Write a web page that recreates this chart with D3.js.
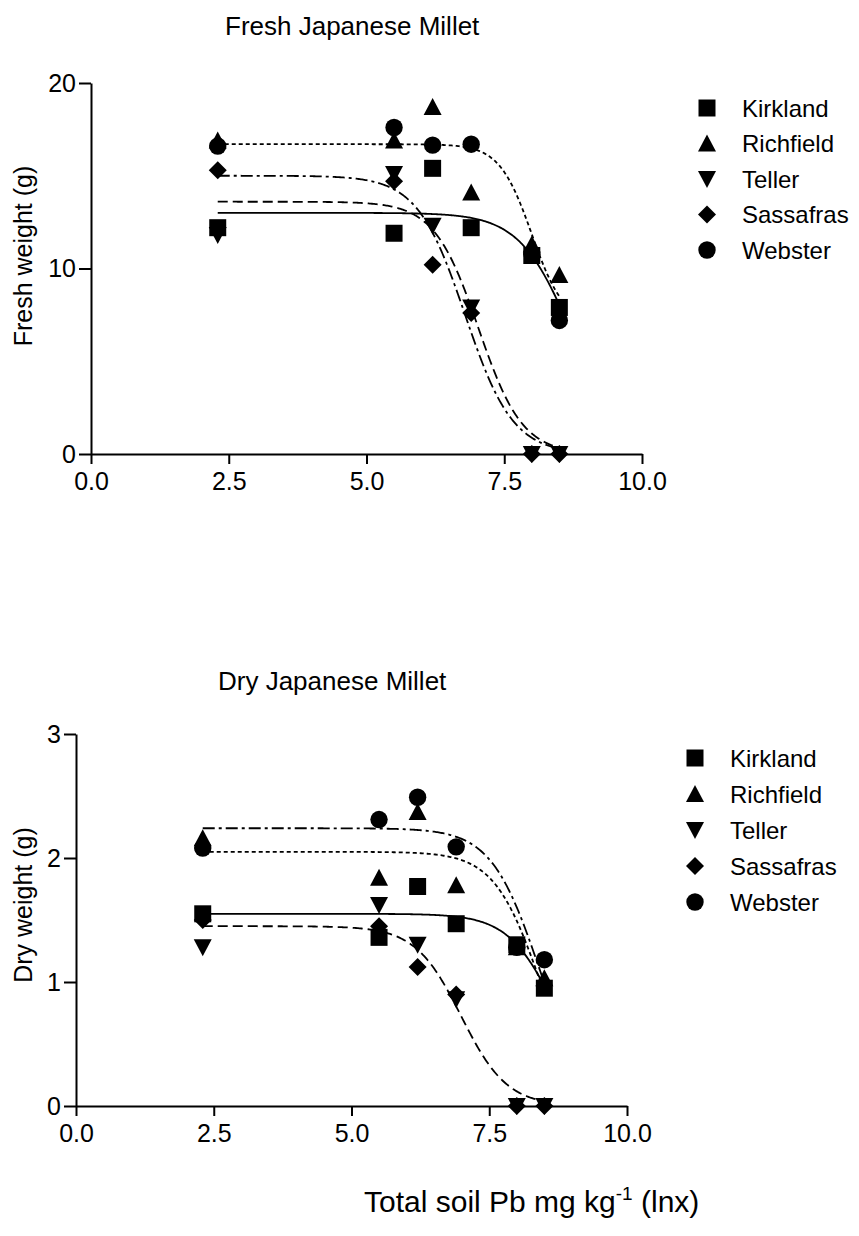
<!DOCTYPE html>
<html>
<head>
<meta charset="utf-8">
<script src="https://cdn.jsdelivr.net/npm/d3@7"></script>
<style>
  body { margin: 0; background: #fff; }
  text { font-family: "Liberation Sans", Arial, sans-serif; fill: #000; }
</style>
</head>
<body>
<div id="container"></div>
<script>
// ln of total soil Pb, same levels in both panels
const lnPb = [2.3, 5.5, 6.2, 6.9, 8.0, 8.5];
const sites = ["Kirkland", "Richfield", "Teller", "Sassafras", "Webster"];
const xTicks = [0, 2.5, 5, 7.5, 10];

// fresh weight (g)
const freshKirkland  = [12.2, 11.9, 15.4, 12.2, 10.7, 7.9];
const freshRichfield = [16.9, 16.9, 18.7, 14.1, 11.3, 9.65];
const freshTeller    = [11.8, 15.1, 12.3, 7.9, 0, 0];
const freshSassafras = [15.3, 14.7, 10.2, 7.6, 0, 0];
const freshWebster   = [16.6, 17.6, 16.65, 16.7, 10.8, 7.2];
const freshTicks = [0, 10, 20];

// dry weight (g)
const dryKirkland  = [1.55, 1.36, 1.77, 1.47, 1.30, 0.95];
const dryRichfield = [2.16, 1.84, 2.37, 1.78, 1.28, 1.03];
const dryTeller    = [1.28, 1.62, 1.30, 0.86, 0, 0];
const drySassafras = [1.50, 1.45, 1.12, 0.90, 0, 0];
const dryWebster   = [2.08, 2.31, 2.49, 2.09, 1.28, 1.18];
const dryTicks = [0, 1, 2, 3];

// sigmoid fits: top, bottom, midpoint (ln x), slope
const freshFitTop    = [13.0, 16.7, 13.6, 15.0];
const freshFitBottom = [0, 7, 0, 0];
const freshFitMid    = [8.73, 8.0, 7.03, 6.79];
const freshFitSlope  = [2.1, 3.4, 2.5, 2.3];

const dryFitTop    = [1.55, 2.05, 1.45, 2.24];
const dryFitBottom = [0, 0, 0, 0];
const dryFitMid    = [8.72, 8.41, 6.99, 8.4];
const dryFitSlope  = [2.3, 2.4, 2.4, 2.3];

// line style for each fitted curve (same order as fit arrays)
const fitDash = [null, "4,3", "10,5", "12,4,3,4"];

const width = 859, height = 1236;
const svg = d3.select("#container").append("svg")
    .attr("width", width).attr("height", height);

// marker shapes, bbox-centred
function marker(type, s) {
    const h = s / 2;
    if (type === 0) return `M${-h + 0.5},${-h + 0.5}H${h - 0.5}V${h - 0.5}H${-h + 0.5}Z`;
    if (type === 1) return `M0,${-h}L${h},${h - 1}L${-h},${h - 1}Z`;
    if (type === 2) return `M0,${h}L${h},${-h + 1}L${-h},${-h + 1}Z`;
    if (type === 3) return `M0,${-h}L${h},0L0,${h}L${-h},0Z`;
    return d3.symbol(d3.symbolCircle, Math.PI * (h - 0.3) * (h - 0.3))();
}

function panel(opts) {
    const x = d3.scaleLinear().domain([0, 10]).range([opts.left, opts.right]);
    const y = d3.scaleLinear().domain([0, opts.yMax]).range([opts.bottom, opts.top]);
    const g = svg.append("g");

    g.append("text")
        .attr("x", opts.titleX).attr("y", opts.titleY)
        .attr("font-size", 26)
        .text(opts.title);

    const yAxis = g.append("g")
        .attr("transform", `translate(${opts.left},0)`)
        .call(d3.axisLeft(y).tickValues(opts.yTicks).tickFormat(d3.format("d"))
            .tickSize(12).tickSizeOuter(0).tickPadding(3));
    const xAxis = g.append("g")
        .attr("transform", `translate(0,${opts.bottom})`)
        .call(d3.axisBottom(x).tickValues(xTicks).tickFormat(d3.format(".1f"))
            .tickSize(10).tickSizeOuter(0).tickPadding(8));
    [yAxis, xAxis].forEach(a => {
        a.select(".domain").attr("stroke-width", 2);
        a.selectAll(".tick line").attr("stroke-width", 2);
        a.selectAll("text").attr("font-size", 25)
            .attr("font-family", "Liberation Sans, Arial, sans-serif");
    });

    g.append("text")
        .attr("transform", `translate(${opts.yLabelX},${opts.yLabelY}) rotate(-90)`)
        .attr("text-anchor", "middle")
        .attr("font-size", 25)
        .text(opts.yLabel);

    // fitted curves
    const xs = d3.range(lnPb[0], lnPb[lnPb.length - 1], 0.02).concat([lnPb[lnPb.length - 1]]);
    const line = d3.line().x(d => x(d[0])).y(d => y(d[1]));
    opts.fitTop.forEach((t, i) => {
        const b = opts.fitBottom[i], m = opts.fitMid[i], k = opts.fitSlope[i];
        const pts = xs.map(v => [v, b + (t - b) / (1 + Math.exp(k * (v - m)))]);
        g.append("path")
            .attr("d", line(pts))
            .attr("fill", "none")
            .attr("stroke", "#000")
            .attr("stroke-width", 1.8)
            .attr("stroke-dasharray", fitDash[i]);
    });

    // data points
    opts.series.forEach((vals, si) => {
        g.append("g").selectAll("path")
            .data(vals.map((v, i) => [lnPb[i], v]))
            .join("path")
            .attr("transform", d => `translate(${x(d[0])},${y(d[1])})`)
            .attr("d", marker(si, 18))
            .attr("fill", "#000");
    });

    // legend
    sites.forEach((name, i) => {
        const ly = opts.legendY + i * opts.legendStep;
        g.append("path")
            .attr("transform", `translate(${opts.legendX},${ly})`)
            .attr("d", marker(i, 18))
            .attr("fill", "#000");
        g.append("text")
            .attr("x", opts.legendX + 35).attr("y", ly)
            .attr("dy", "0.36em")
            .attr("font-size", 24)
            .text(name);
    });
}

panel({
    title: "Fresh Japanese Millet", titleX: 225, titleY: 35,
    left: 91, right: 642, top: 83, bottom: 454, yMax: 20, yTicks: freshTicks,
    yLabel: "Fresh weight (g)", yLabelX: 32, yLabelY: 256,
    series: [freshKirkland, freshRichfield, freshTeller, freshSassafras, freshWebster],
    fitTop: freshFitTop, fitBottom: freshFitBottom, fitMid: freshFitMid, fitSlope: freshFitSlope,
    legendX: 707, legendY: 108, legendStep: 35.5
});

panel({
    title: "Dry Japanese Millet", titleX: 218, titleY: 690,
    left: 76, right: 627, top: 734, bottom: 1106, yMax: 3, yTicks: dryTicks,
    yLabel: "Dry weight (g)", yLabelX: 32, yLabelY: 905,
    series: [dryKirkland, dryRichfield, dryTeller, drySassafras, dryWebster],
    fitTop: dryFitTop, fitBottom: dryFitBottom, fitMid: dryFitMid, fitSlope: dryFitSlope,
    legendX: 695, legendY: 758, legendStep: 36
});

const xl = svg.append("text")
    .attr("x", 364).attr("y", 1212)
    .attr("font-size", 30);
xl.append("tspan").text("Total soil Pb mg kg");
xl.append("tspan").attr("font-size", 19).attr("dy", -12).text("-1");
xl.append("tspan").attr("dy", 12).text(" (lnx)");
</script>
</body>
</html>
